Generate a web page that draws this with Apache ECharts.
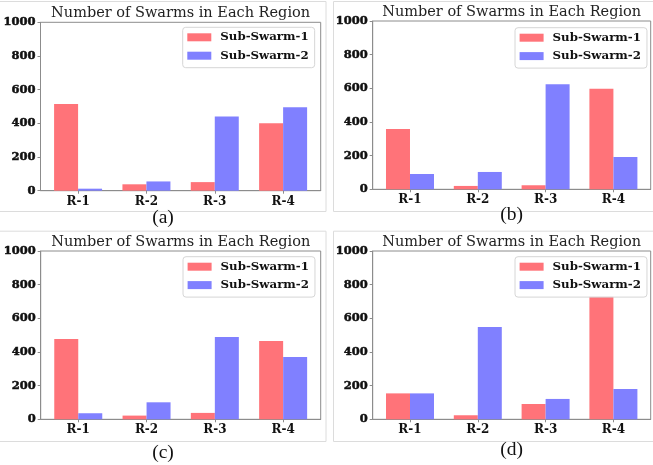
<!DOCTYPE html>
<html><head><meta charset="utf-8">
<script src="https://cdn.jsdelivr.net/npm/echarts@6/dist/echarts.min.js"></script>
<style>html,body{margin:0;padding:0;background:#fff}#c{width:653px;height:465px}</style>
</head><body><div id="c"></div>
<script>
var categories = ['R-1', 'R-2', 'R-3', 'R-4'];
var seriesNames = ['Sub-Swarm-1', 'Sub-Swarm-2'];
var titleText = 'Number of Swarms in Each Region';
var captions = ['(a)', '(b)', '(c)', '(d)'];
var yTicks = [0, 200, 400, 600, 800, 1000];

var a_swarm1 = [515, 38, 51, 400];
var a_swarm2 = [12, 55, 440, 495];
var b_swarm1 = [358, 20, 24, 598];
var b_swarm2 = [91, 103, 624, 192];
var c_swarm1 = [477, 22, 38, 465];
var c_swarm2 = [36, 101, 489, 370];
var d_swarm1 = [154, 24, 91, 729];
var d_swarm2 = [154, 549, 121, 180];

var panels = [[a_swarm1, a_swarm2], [b_swarm1, b_swarm2], [c_swarm1, c_swarm2], [d_swarm1, d_swarm2]];

// layout (pixels)
var grids = [
  {left: 40.5, top: 22.3, width: 280.2, height: 168.4},
  {left: 372.7, top: 21, width: 278, height: 168.3},
  {left: 40.7, top: 251, width: 280, height: 168.3},
  {left: 372.7, top: 251, width: 278, height: 168.3}
];
var legendPos = [{left: 182.7, top: 27.3}, {left: 515, top: 27.7}, {left: 183, top: 256.7}, {left: 515, top: 256.7}];
var titlePos = [[180.6, 13], [511.7, 12.3], [180.8, 242.3], [511.7, 242.3]];
var captionPos = [[163, 217.5], [511.7, 215], [163, 452.5], [511.7, 450]];
var frames = [[-2, 1, 327.5, 210], [333, 1, 330, 210], [-2, 230.7, 327.5, 210.3], [333, 230.7, 330, 210.3]];

var colors = ['#ff7379', '#8080ff'];
var frameColor = '#8c8c8c';
var serif = 'DejaVu Serif';

var xIdx = categories.map(function (c, i) { return i; });

var option = {
  animation: false,
  backgroundColor: '#fff',
  grid: [], xAxis: [], yAxis: [], series: [], legend: [], graphic: []
};

panels.forEach(function (p, k) {
  var g = grids[k];
  option.grid.push({left: g.left, top: g.top, width: g.width, height: g.height, show: true,
    borderColor: frameColor, borderWidth: 1, backgroundColor: 'transparent', containLabel: false});
  option.xAxis.push({
    type: 'value', gridIndex: k, min: -0.55, max: 3.55,
    splitLine: {show: false},
    axisLine: {show: true, onZero: false, lineStyle: {color: frameColor, width: 1}},
    axisTick: {show: true, length: 3, customValues: xIdx, lineStyle: {color: frameColor}},
    axisLabel: {customValues: xIdx, margin: 5, color: '#111', fontFamily: serif, fontWeight: 'bold', fontSize: 12,
      formatter: function (v) { return categories[Math.round(v)]; }}
  });
  option.yAxis.push({
    type: 'value', gridIndex: k, min: yTicks[0], max: yTicks[yTicks.length - 1], interval: 200,
    splitLine: {show: false},
    axisLine: {show: true, onZero: false, lineStyle: {color: frameColor, width: 1}},
    axisTick: {show: true, length: 3, lineStyle: {color: frameColor}},
    axisLabel: {margin: 5, color: '#111', fontFamily: serif, fontWeight: 'bold', fontSize: 11.5,
      textBorderColor: '#111', textBorderWidth: 0.5,
      formatter: function (v) { return String(v); }}
  });
  [0, 1].forEach(function (s) {
    option.series.push({
      type: 'bar', name: seriesNames[s], xAxisIndex: k, yAxisIndex: k,
      barWidth: 24, barGap: '0%',
      itemStyle: {color: colors[s]},
      data: p[s].map(function (v, i) { return [xIdx[i], v]; })
    });
  });
  option.legend.push({
    data: seriesNames, orient: 'vertical', left: legendPos[k].left, top: legendPos[k].top,
    icon: 'rect', itemWidth: 24, itemHeight: 8, itemGap: 6.4,
    padding: [4, 6, 6, 4.6], borderColor: '#d6d6d6', borderWidth: 1, borderRadius: 3,
    backgroundColor: 'rgba(255,255,255,0.85)',
    textStyle: {fontFamily: serif, fontWeight: 'bold', fontSize: 11.8, color: '#111', lineHeight: 11, padding: [0, 0, 0, 4]},
    selectedMode: false
  });
  var f = frames[k];
  option.graphic.push({type: 'rect', z: -10, shape: {x: f[0] + 0.5, y: f[1] + 0.5, width: f[2], height: f[3]},
    style: {fill: 'none', stroke: '#dcdcdc', lineWidth: 1}});
  option.graphic.push({type: 'text', x: titlePos[k][0], y: titlePos[k][1],
    style: {text: titleText, fill: '#222', font: '14.5px "DejaVu Serif"', textAlign: 'center', textVerticalAlign: 'middle'}});
  option.graphic.push({type: 'text', x: captionPos[k][0], y: captionPos[k][1],
    style: {text: captions[k], fill: '#111', font: '19.5px "Liberation Serif"', textAlign: 'center', textVerticalAlign: 'middle'}});
});

var chart = echarts.init(document.getElementById('c'), null, {renderer: 'canvas'});
chart.setOption(option);
</script></body></html>
